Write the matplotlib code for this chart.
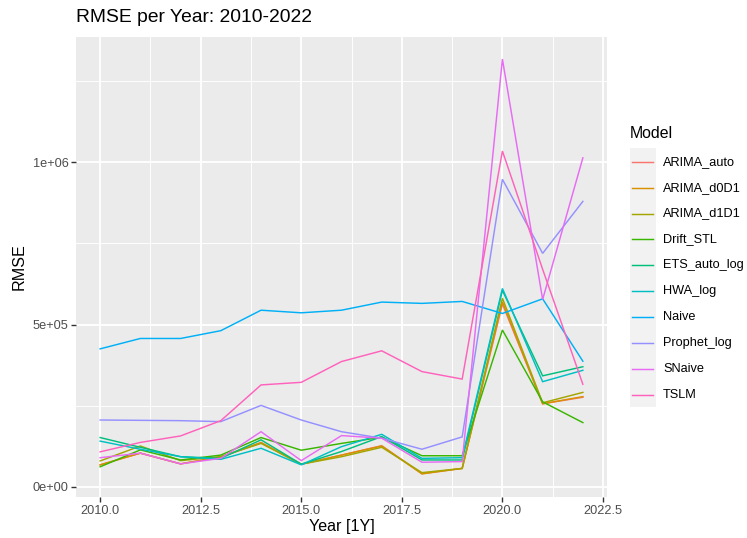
import numpy as np
import matplotlib.pyplot as plt
from matplotlib.lines import Line2D
from matplotlib.patches import Rectangle
from matplotlib.ticker import FixedLocator

plt.rcParams['font.family'] = ['Liberation Sans', 'DejaVu Sans']

years = np.arange(2010, 2023)

models = ["ARIMA_auto", "ARIMA_d0D1", "ARIMA_d1D1", "Drift_STL", "ETS_auto_log",
          "HWA_log", "Naive", "Prophet_log", "SNaive", "TSLM"]

arima_auto = [68e3, 104e3, 71e3, 92e3, 137e3, 70e3, 98e3, 127e3, 41e3, 57e3, 563e3, 256e3, 276e3]
arima_d0d1 = [68e3, 104e3, 71e3, 93e3, 136e3, 70e3, 98e3, 126e3, 40e3, 57e3, 570e3, 256e3, 278e3]
arima_d1d1 = [80e3, 126e3, 81e3, 93e3, 134e3, 70e3, 93e3, 122e3, 44e3, 57e3, 581e3, 259e3, 291e3]
drift_stl = [62e3, 114e3, 83e3, 98e3, 152e3, 113e3, 134e3, 153e3, 96e3, 96e3, 483e3, 262e3, 198e3]
ets_auto_log = [152e3, 122e3, 93e3, 88e3, 145e3, 70e3, 109e3, 155e3, 83e3, 83e3, 605e3, 342e3, 370e3]
hwa_log = [141e3, 116e3, 93e3, 85e3, 119e3, 68e3, 124e3, 162e3, 88e3, 90e3, 611e3, 324e3, 359e3]
naive = [425e3, 457e3, 457e3, 481e3, 544e3, 536e3, 544e3, 569e3, 565e3, 571e3, 534e3, 579e3, 387e3]
prophet_log = [206e3, 205e3, 204e3, 201e3, 251e3, 206e3, 170e3, 150e3, 116e3, 154e3, 947e3, 719e3, 879e3]
snaive = [90e3, 104e3, 71e3, 88e3, 170e3, 81e3, 158e3, 150e3, 76e3, 78e3, 1317e3, 577e3, 1013e3]
tslm = [108e3, 137e3, 157e3, 204e3, 314e3, 322e3, 386e3, 419e3, 355e3, 332e3, 1034e3, 670e3, 316e3]

series = [arima_auto, arima_d0d1, arima_d1d1, drift_stl, ets_auto_log,
          hwa_log, naive, prophet_log, snaive, tslm]

# ggplot2 default hue palette for 10 groups
colors = ["#F8766D", "#D89000", "#A3A500", "#39B600", "#00BF7D",
          "#00BFC4", "#00B0F6", "#9590FF", "#E76BF3", "#FF62BC"]

W, H = 747, 538
fig = plt.figure(figsize=(W / 100, H / 100), dpi=100)
ax = fig.add_axes([76 / W, 1 - 497 / H, 531 / W, 460 / H])
ax.set_facecolor("#EBEBEB")

for vals, col, name in zip(series, colors, models):
    ax.plot(years, vals, color=col, lw=1.05, label=name, solid_joinstyle="miter")

ax.set_xlim(2009.4, 2022.6)
ax.set_ylim(-31000, 1385000)

xt = [2010.0, 2012.5, 2015.0, 2017.5, 2020.0, 2022.5]
yt = [0, 5e5, 1e6]
ax.set_xticks(xt)
ax.set_xticklabels([f"{v:.1f}" for v in xt])
ax.set_yticks(yt)
ax.set_yticklabels(["0e+00", "5e+05", "1e+06"])
ax.xaxis.set_minor_locator(FixedLocator([2011.25, 2013.75, 2016.25, 2018.75, 2021.25]))
ax.yaxis.set_minor_locator(FixedLocator([2.5e5, 7.5e5, 1.25e6]))

ax.grid(which="major", color="white", lw=1.3)
ax.grid(which="minor", color="white", lw=0.65)
ax.set_axisbelow(True)
for s in ax.spines.values():
    s.set_visible(False)
ax.tick_params(which="major", length=3.5, width=1.0, color="#333333",
               labelcolor="#4D4D4D", labelsize=9.2, pad=2)
ax.tick_params(which="minor", length=0)

ax.set_xlabel("Year [1Y]", fontsize=11.6, labelpad=2)
ax.set_ylabel("RMSE", fontsize=11.6, labelpad=4)
fig.text(76 / W, 1 - 18 / H, "RMSE per Year: 2010-2022", fontsize=13.9,
         ha="left", va="center")

# legend drawn by hand in pixel positions
def fx(px):
    return px / W

def fy(py):
    return 1 - py / H

fig.text(fx(630), fy(134), "Model", fontsize=11.4, ha="left", va="center")
fig.add_artist(Rectangle((fx(630), fy(407)), fx(656) - fx(630), fy(148) - fy(407),
                         transform=fig.transFigure, facecolor="#F2F2F2",
                         edgecolor="none"))
for i, (name, col) in enumerate(zip(models, colors)):
    yy = 161.7 + i * 25.9
    fig.add_artist(Line2D([fx(632), fx(653)], [fy(yy), fy(yy)],
                          transform=fig.transFigure, color=col, lw=1.05))
    fig.text(fx(663), fy(yy), name, fontsize=9.2, ha="left", va="center")

fig.savefig("out.png", dpi=100)
